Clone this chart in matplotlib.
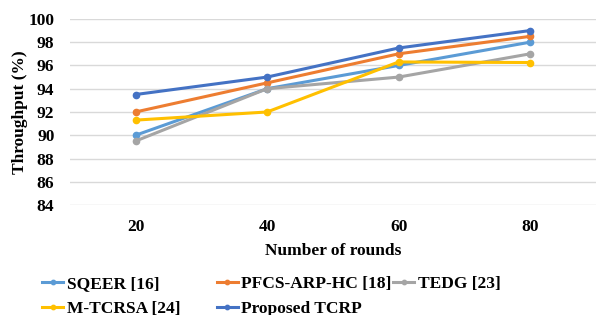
import numpy as np
import matplotlib
matplotlib.use('Agg')
import matplotlib.pyplot as plt

rounds = ['20', '40', '60', '80']

sqeer = [90.0, 94.0, 96.0, 98.0]
pfcs = [92.0, 94.5, 97.0, 98.5]
tedg = [89.5, 94.0, 95.0, 97.0]
mtcrsa = [91.3, 92.0, 96.3, 96.25]
tcrp = [93.5, 95.0, 97.5, 99.0]

labels = ['SQEER [16]', 'PFCS-ARP-HC [18]', 'TEDG [23]', 'M-TCRSA [24]', 'Proposed TCRP']
colors = ['#5B9BD5', '#ED7D31', '#A5A5A5', '#FFC000', '#4472C4']
series = [sqeer, pfcs, tedg, mtcrsa, tcrp]

plt.rcParams['font.family'] = 'Liberation Serif'
plt.rcParams['font.weight'] = 'bold'

fig = plt.figure(figsize=(5.96, 3.15), dpi=100)
ax = fig.add_axes([0.117, 0.349, 0.883, 0.591])

x = np.arange(len(rounds))
lines = []
for vals, col, lab in zip(series, colors, labels):
    ln, = ax.plot(x, vals, color=col, lw=2.2, marker='o', markersize=4.5, label=lab)
    lines.append(ln)

ax.set_xlim(-0.5, 3.5)
ax.set_ylim(84, 100)
ax.set_yticks(np.arange(84, 101, 2))
ax.set_xticks(x)
ax.set_xticklabels(rounds)
ax.grid(axis='y', color='#D9D9D9', lw=1)
ax.set_axisbelow(True)
for s in ax.spines.values():
    s.set_visible(False)
ax.tick_params(length=0, labelsize=12.5)
ax.tick_params(axis='y', pad=11)
ax.tick_params(axis='x', pad=10)
for t in ax.get_xticklabels() + ax.get_yticklabels():
    t.set_fontweight('bold')

ax.set_xlabel('Number of rounds', fontsize=12.5, fontweight='bold', labelpad=6)
ax.set_ylabel('Throughput (%)', fontsize=12.5, fontweight='bold', labelpad=0)

# legend in three separate columns, like the Excel layout
cols = [[0, 3], [1, 4], [2]]
xpos = [0.071, 0.364, 0.66]
for idx, xp in zip(cols, xpos):
    fig.legend([lines[i] for i in idx], [labels[i] for i in idx],
               loc='upper left', bbox_to_anchor=(xp, 0.125), frameon=False,
               prop={'size': 12.5, 'weight': 'bold'}, handlelength=1.2,
               handletextpad=0.2, labelspacing=0.55, borderaxespad=0, borderpad=0,
               markerscale=0.7)

fig.savefig('out.png', dpi=100)
